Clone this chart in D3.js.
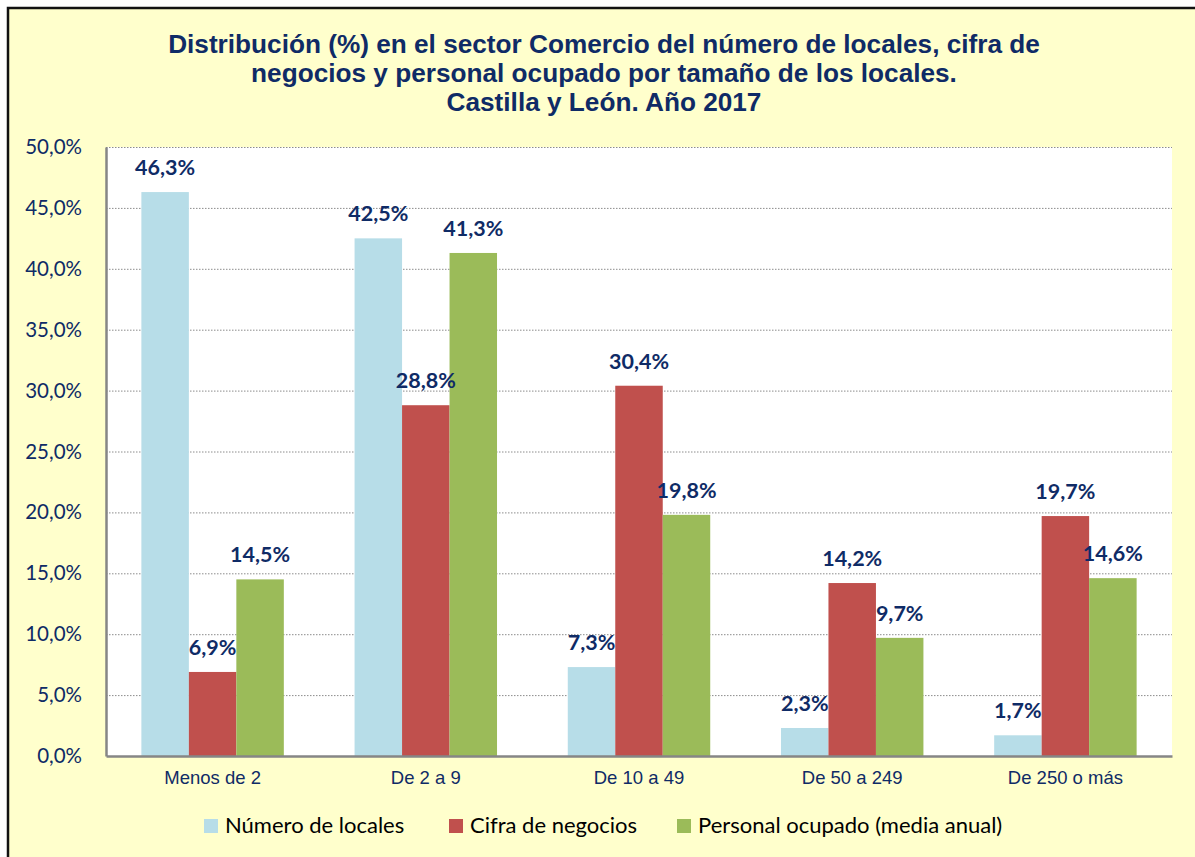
<!DOCTYPE html>
<html lang="es">
<head>
<meta charset="UTF-8">
<title>Comercio Castilla y León 2017</title>
<script src="https://cdn.jsdelivr.net/npm/d3@7"></script>
<style>
  body { margin: 0; background: #ffffff; }
  svg { display: block; }
</style>
</head>
<body>
<script>
// data
var categories = ["Menos de 2", "De 2 a 9", "De 10 a 49", "De 50 a 249", "De 250 o más"];
var seriesNames = ["Número de locales", "Cifra de negocios", "Personal ocupado (media anual)"];
var locales = [46.3, 42.5, 7.3, 2.3, 1.7];
var cifra = [6.9, 28.8, 30.4, 14.2, 19.7];
var personal = [14.5, 41.3, 19.8, 9.7, 14.6];
var colors = ["#b7dde8", "#c0504d", "#9bbb59"];
var yTicks = [0, 5, 10, 15, 20, 25, 30, 35, 40, 45, 50];
var titleLines = [
  "Distribución (%) en el sector Comercio del número de locales, cifra de",
  "negocios y personal ocupado por tamaño de los locales.",
  "Castilla y León. Año 2017"
];

var w = 1195, h = 857;
var navy = "#0f2b66";
var fmt = function(v) { return v.toFixed(1).replace(".", ",") + "%"; };

var rows = categories.map(function(c, i) {
  return { cat: c, values: [locales[i], cifra[i], personal[i]] };
});

var svg = d3.select("body").append("svg")
  .attr("width", w)
  .attr("height", h);

// chart background and frame
svg.append("rect")
  .attr("x", 8).attr("y", 8)
  .attr("width", w + 10).attr("height", h + 10)
  .attr("fill", "#ffffcc")
  .attr("stroke", "#111")
  .attr("stroke-width", 2.5);

// title
svg.append("g").selectAll("text")
  .data(titleLines)
  .enter().append("text")
  .attr("x", 604)
  .attr("y", function(d, i) { return 53 + i * 29; })
  .attr("text-anchor", "middle")
  .attr("font-family", "'Liberation Sans', Arial, sans-serif")
  .attr("font-weight", "bold")
  .attr("font-size", 26.2)
  .attr("fill", navy)
  .text(function(d) { return d; });

var plotLeft = 106, plotRight = 1172, plotTop = 147, plotBottom = 756;

var x0 = d3.scaleBand()
  .domain(categories)
  .range([plotLeft, plotRight])
  .padding(0);

var x1 = d3.scaleBand()
  .domain(d3.range(3))
  .range([0, x0.bandwidth()])
  .paddingInner(0)
  .paddingOuter(0.745);

var y = d3.scaleLinear()
  .domain([0, 50])
  .range([plotBottom, plotTop]);

// plot area
svg.append("rect")
  .attr("x", plotLeft).attr("y", plotTop)
  .attr("width", plotRight - plotLeft).attr("height", plotBottom - plotTop)
  .attr("fill", "#ffffff");

// gridlines
svg.append("g")
  .selectAll("line")
  .data(yTicks.filter(function(d) { return d > 0; }))
  .enter().append("line")
  .attr("x1", plotLeft).attr("x2", plotRight)
  .attr("y1", function(d) { return y(d) + 0.5; })
  .attr("y2", function(d) { return y(d) + 0.5; })
  .attr("stroke", "#8c8c8c")
  .attr("stroke-width", 1)
  .attr("stroke-dasharray", "1.5,1.5");

// bars
var groups = svg.append("g").selectAll("g")
  .data(rows)
  .enter().append("g")
  .attr("transform", function(d) { return "translate(" + x0(d.cat) + ",0)"; });

groups.selectAll("rect")
  .data(function(d) { return d.values; })
  .enter().append("rect")
  .attr("x", function(d, i) { return x1(i); })
  .attr("y", function(d) { return y(d); })
  .attr("width", x1.bandwidth())
  .attr("height", function(d) { return plotBottom - y(d); })
  .attr("fill", function(d, i) { return colors[i]; });

groups.selectAll("text")
  .data(function(d) { return d.values; })
  .enter().append("text")
  .attr("x", function(d, i) { return x1(i) + x1.bandwidth() / 2; })
  .attr("y", function(d) { return y(d) - 17; })
  .attr("text-anchor", "middle")
  .attr("font-family", "Lato, 'Open Sans', sans-serif")
  .attr("font-weight", "bold")
  .attr("font-size", 21.5)
  .attr("fill", navy)
  .text(fmt);

// y axis
var yAxis = svg.append("g")
  .attr("transform", "translate(" + plotLeft + ",0)")
  .call(d3.axisLeft(y).tickValues(yTicks).tickSize(0).tickPadding(24).tickFormat(function(d) { return fmt(d); }));
yAxis.select(".domain").attr("stroke", "#868686").attr("stroke-width", 2.5);
yAxis.selectAll("text")
  .attr("font-family", "Lato, 'Open Sans', sans-serif")
  .attr("font-size", 20.5)
  .attr("fill", navy);

// x axis
var xAxis = svg.append("g")
  .attr("transform", "translate(0," + plotBottom + ")")
  .call(d3.axisBottom(x0).tickSize(0).tickPadding(15));
xAxis.select(".domain").attr("stroke", "#868686").attr("stroke-width", 2.5);
xAxis.selectAll("text")
  .attr("font-family", "'Liberation Sans', Arial, sans-serif")
  .attr("font-size", 18.5)
  .attr("fill", navy);

// legend
var legendX = [204, 449, 677];
var legend = svg.append("g").selectAll("g")
  .data(seriesNames)
  .enter().append("g")
  .attr("transform", function(d, i) { return "translate(" + legendX[i] + ",819)"; });
legend.append("rect")
  .attr("width", 14).attr("height", 14)
  .attr("fill", function(d, i) { return colors[i]; });
legend.append("text")
  .attr("x", 21).attr("y", 14)
  .attr("font-family", "Lato, 'Open Sans', sans-serif")
  .attr("font-size", 22)
  .attr("fill", "#000")
  .text(function(d) { return d; });
</script>
</body>
</html>
